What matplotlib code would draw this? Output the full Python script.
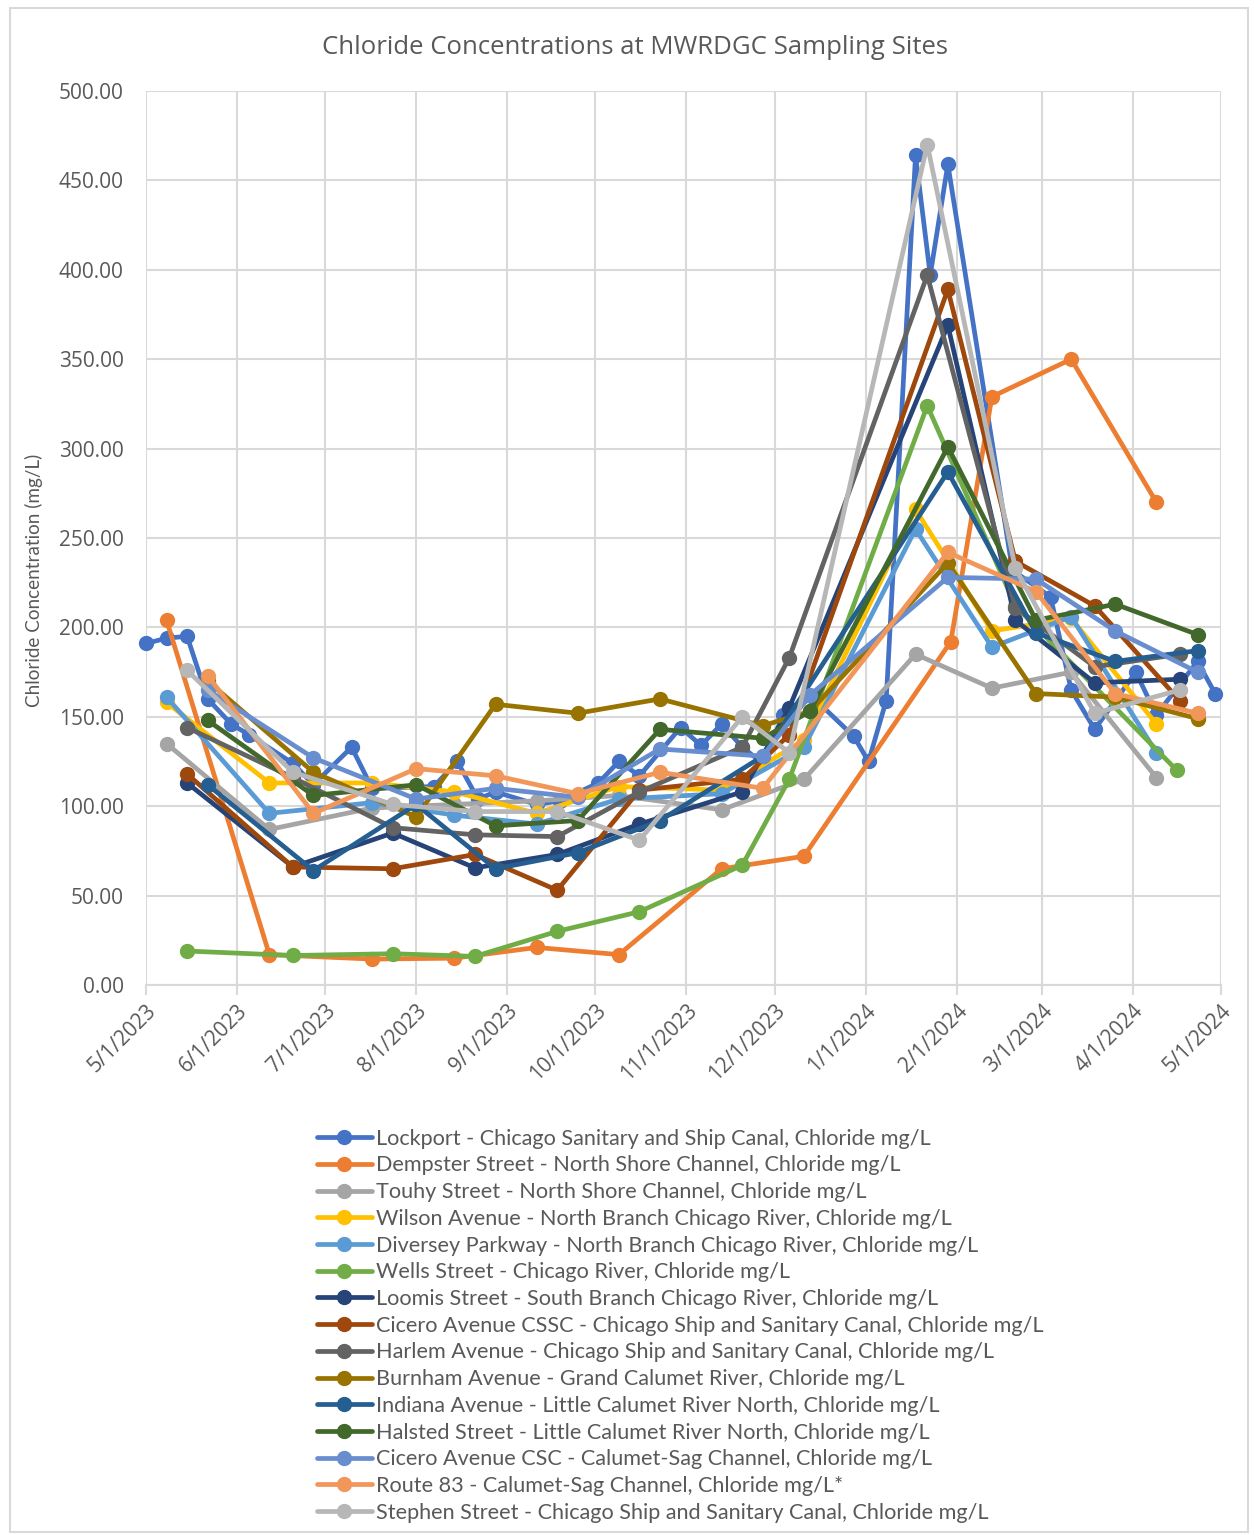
import matplotlib
matplotlib.use("Agg")
import matplotlib.pyplot as plt
import matplotlib.dates as mdates
import pandas as pd
from matplotlib.patches import Rectangle

# --- data ---
lockport_dates = ["2023-05-01", "2023-05-08", "2023-05-15", "2023-05-22", "2023-05-30", "2023-06-05",
                  "2023-06-20", "2023-06-27", "2023-07-10", "2023-07-17", "2023-08-07", "2023-08-15",
                  "2023-08-22", "2023-08-28", "2023-09-11", "2023-09-19", "2023-10-02", "2023-10-09",
                  "2023-10-16", "2023-10-30", "2023-11-06", "2023-11-13", "2023-11-20", "2023-11-27",
                  "2023-12-04", "2023-12-14", "2023-12-28", "2024-01-02", "2024-01-08", "2024-01-18",
                  "2024-01-23", "2024-01-29", "2024-02-20", "2024-03-04", "2024-03-11", "2024-03-19",
                  "2024-04-02", "2024-04-09", "2024-04-23", "2024-04-29"]
lockport = [191, 194, 195, 160, 146, 140, 124, 112, 133, 110, 111, 125, 104, 108, 101, 103, 113, 125,
            117, 144, 134, 146, 133, 124, 151, 161, 139, 125, 159, 464, 397, 459, 232, 217, 165, 143,
            175, 151, 181, 163]

north_dates = ["2023-05-08", "2023-06-12", "2023-07-17", "2023-08-14", "2023-09-11", "2023-10-09",
               "2023-11-13", "2023-12-11", "2024-01-18", "2024-02-13", "2024-03-11", "2024-04-09"]
dempster_dates = north_dates[:8] + ["2024-01-30"] + north_dates[9:]
dempster = [204, 17, 14.5, 15, 21, 17, 65, 72, 192, 329, 350, 270]
touhy = [135, 87, 99, 101, 103, 106, 98, 115, 185, 166, 175, 116]
wilson = [158, 113, 113, 108, 96, 111, 109, 137, 266, 198, 205, 146]
diversey = [161, 96, 102, 95, 90, 104, 107, 133, 255, 189, 206, 130]

wells_dates = ["2023-05-15", "2023-06-20", "2023-07-24", "2023-08-21", "2023-09-18", "2023-10-16",
               "2023-11-20", "2023-12-06", "2024-01-22", "2024-02-21", "2024-04-16"]
wells = [19, 16.5, 17.5, 16, 30, 41, 67, 115, 324, 212, 120]

south_dates = ["2023-05-15", "2023-06-20", "2023-07-24", "2023-08-21", "2023-09-18", "2023-10-16",
               "2023-11-20", "2023-12-06", "2024-01-29", "2024-02-21", "2024-03-19", "2024-04-17"]
loomis = [113, 66, 85, 65.5, 73, 90, 108, 155, 369, 204, 169, 171]
cicero_cssc = [118, 66, 65, 73, 53, 109, 115, 140, 389, 237, 212, 159]
harlem_dates = south_dates[:8] + ["2024-01-22"] + south_dates[9:]
harlem = [144, 116, 88, 84, 83, 108, 133, 183, 397, 211, 178, 185]
stephen_dates = harlem_dates
stephen = [176, 119, 101, 97, 97, 81, 150, 130, 470, 233, 152, 165]

calumet_dates = ["2023-05-22", "2023-06-27", "2023-08-01", "2023-08-28", "2023-09-25", "2023-10-23",
                 "2023-11-27", "2024-01-29", "2024-02-28", "2024-03-26", "2024-04-23"]
calumet_dates_dec = calumet_dates[:7] + ["2023-12-13"] + calumet_dates[7:]
burnham = [170, 119, 94, 157, 152, 160, 145, 153, 236, 163, 161, 149]
indiana = [112, 64, 101, 65, 74, 92, 128, 287, 197, 181, 187]
halsted = [148, 106, 112, 89, 92, 143, 138, 153, 301, 204, 213, 196]
cicero_csc = [165, 127, 104, 110, 105, 132, 128, 162, 228, 227, 198, 175]
route83 = [173, 96, 121, 117, 107, 119, 110, 242, 220, 163, 152]

series = [
    ("Lockport - Chicago Sanitary and Ship Canal, Chloride mg/L", lockport_dates, lockport, "#4472C4"),
    ("Dempster Street - North Shore Channel, Chloride mg/L", dempster_dates, dempster, "#ED7D31"),
    ("Touhy Street - North Shore Channel, Chloride mg/L", north_dates, touhy, "#A5A5A5"),
    ("Wilson Avenue - North Branch Chicago River, Chloride mg/L", north_dates, wilson, "#FFC000"),
    ("Diversey Parkway - North Branch Chicago River, Chloride mg/L", north_dates, diversey, "#5B9BD5"),
    ("Wells Street - Chicago River, Chloride mg/L", wells_dates, wells, "#70AD47"),
    ("Loomis Street - South Branch Chicago River, Chloride mg/L", south_dates, loomis, "#264478"),
    ("Cicero Avenue CSSC - Chicago Ship and Sanitary Canal, Chloride mg/L", south_dates, cicero_cssc, "#9E480E"),
    ("Harlem Avenue - Chicago Ship and Sanitary Canal, Chloride mg/L", harlem_dates, harlem, "#636363"),
    ("Burnham Avenue - Grand Calumet River, Chloride mg/L", calumet_dates_dec, burnham, "#997300"),
    ("Indiana Avenue - Little Calumet River North, Chloride mg/L", calumet_dates, indiana, "#255E91"),
    ("Halsted Street - Little Calumet River North, Chloride mg/L", calumet_dates_dec, halsted, "#43682B"),
    ("Cicero Avenue CSC - Calumet-Sag Channel, Chloride mg/L", calumet_dates_dec, cicero_csc, "#698ED0"),
    ("Route 83 - Calumet-Sag Channel, Chloride mg/L*", calumet_dates, route83, "#F1975A"),
    ("Stephen Street - Chicago Ship and Sanitary Canal, Chloride mg/L", stephen_dates, stephen, "#B7B7B7"),
]

txt = "#595959"
grid = "#D9D9D9"

fig = plt.figure(figsize=(12.54, 15.35), dpi=100)
W, H = 1254, 1535
ax = fig.add_axes([146 / W, 1 - 985 / H, (1221 - 146) / W, (985 - 91) / H])

for label, d, v, c in series:
    ax.plot(pd.to_datetime(d), v, color=c, lw=3.4, marker="o", ms=10, label=label,
            solid_joinstyle="round", solid_capstyle="round", clip_on=False)

ax.set_ylim(0, 500)
ax.set_yticks(range(0, 501, 50))
ax.yaxis.set_major_formatter(matplotlib.ticker.FormatStrFormatter("%.2f"))
ax.set_xlim(pd.Timestamp("2023-05-01"), pd.Timestamp("2024-05-01"))
ax.xaxis.set_major_locator(mdates.MonthLocator())
ax.xaxis.set_major_formatter(matplotlib.ticker.FuncFormatter(
    lambda x, p: "{d.month}/{d.day}/{d.year}".format(d=mdates.num2date(x))))

ax.grid(True, color=grid, lw=1.5)
ax.set_axisbelow(True)
for s in ["top", "right", "left"]:
    ax.spines[s].set_visible(False)
ax.spines["bottom"].set_color(grid)
ax.spines["bottom"].set_linewidth(1.5)
ax.tick_params(axis="y", length=0, pad=16, labelsize=15, labelcolor=txt)
ax.tick_params(axis="x", length=7, width=1.5, color=grid, pad=4, labelsize=15, labelcolor=txt)
for lab in ax.get_yticklabels() + ax.get_xticklabels():
    lab.set_family("Open Sans")
for lab in ax.get_xticklabels():
    lab.set_rotation(45)
    lab.set_ha("right")
    lab.set_rotation_mode("anchor")

fig.text(635 / W, 1 - 48 / H, "Chloride Concentrations at MWRDGC Sampling Sites",
         ha="center", va="center", fontsize=18.5, color=txt, family="Open Sans")
fig.text(34 / W, 1 - 580 / H, "Chloride Concentration (mg/L)", rotation=90,
         ha="center", va="center", fontsize=13.6, color=txt, family="Lato")

leg = fig.legend(loc="upper left", bbox_to_anchor=(308 / W, 1 - 1120 / H), frameon=False,
                 handlelength=2.55, handletextpad=0.2, labelspacing=0.31, borderaxespad=0,
                 prop={"family": "Lato", "size": 15.6})
for t in leg.get_texts():
    t.set_color(txt)

fig.patches.append(Rectangle((10 / W, 1 - 1532 / H), 1238 / W, 1524 / H, transform=fig.transFigure,
                             fill=False, edgecolor=grid, lw=1.5))

fig.savefig("out.png", dpi=100, facecolor="white")
